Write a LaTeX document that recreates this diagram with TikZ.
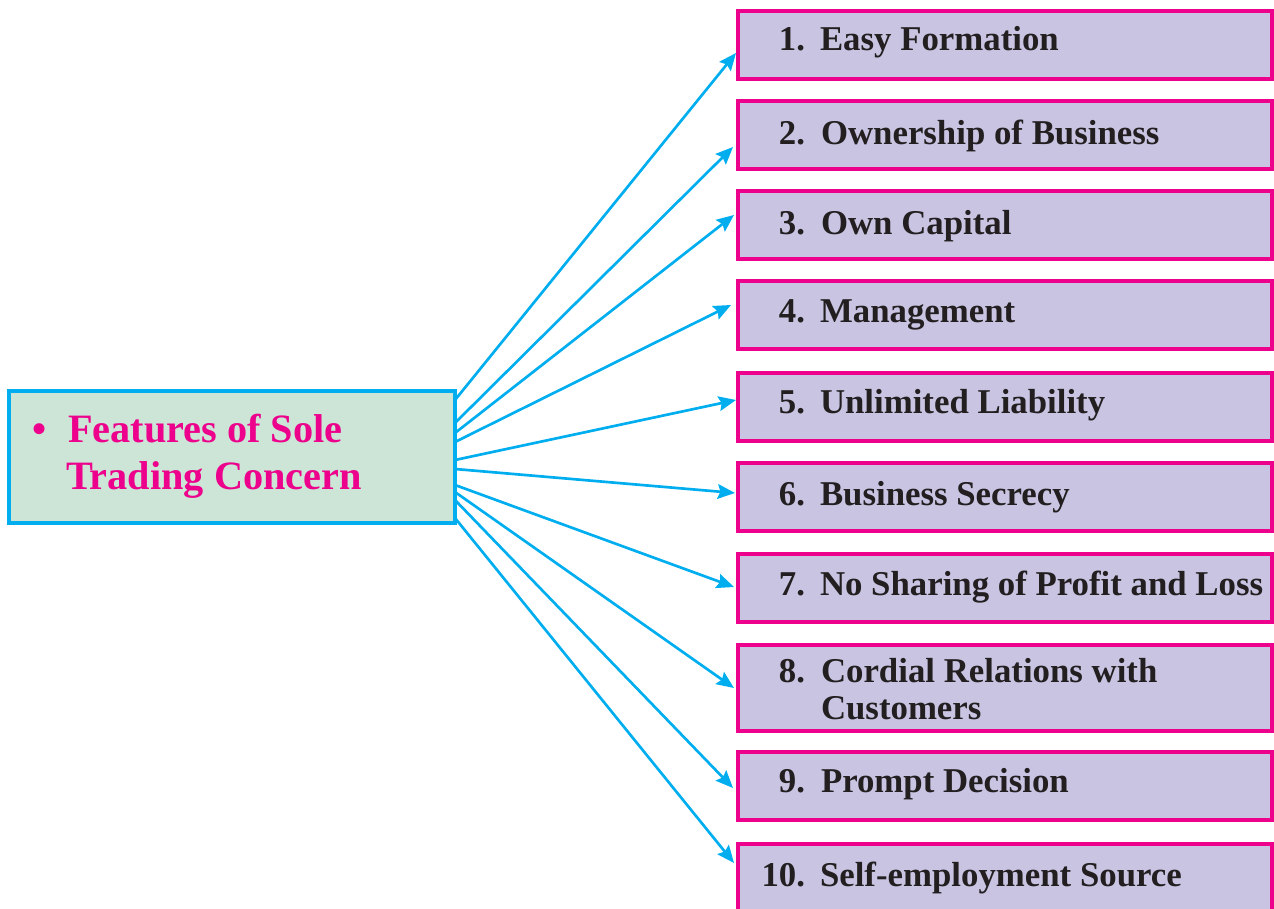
\documentclass[tikz,border=0pt]{standalone}
\usepackage{fontspec}
\setmainfont{Liberation Serif}
\usetikzlibrary{arrows.meta,calc}
\definecolor{cyanA}{RGB}{0,174,239}
\definecolor{magA}{RGB}{236,0,140}
\definecolor{lavA}{RGB}{200,196,226}
\definecolor{mintA}{RGB}{204,229,214}
\definecolor{darkA}{RGB}{35,31,32}
\tikzset{
  itembox/.style={draw=magA, fill=lavA, line width=2.6pt, rectangle, inner sep=0pt, outer sep=0pt,
    anchor=north west, minimum width=400.5pt, minimum height=51pt},
  mainbox/.style={draw=cyanA, fill=mintA, line width=2.6pt, rectangle, inner sep=0pt, outer sep=0pt,
    minimum width=334.5pt, minimum height=99pt, anchor=north west},
  numtxt/.style={inner sep=0pt, outer sep=0pt, anchor=base east, text=darkA,
    font=\fontsize{26.1pt}{30pt}\selectfont\bfseries},
  lbltxt/.style={inner sep=0pt, outer sep=0pt, anchor=base west, text=darkA,
    font=\fontsize{26.1pt}{30pt}\selectfont\bfseries},
  maintxt/.style={inner sep=0pt, outer sep=0pt, anchor=base west, text=magA,
    font=\fontsize{30.2pt}{35pt}\selectfont\bfseries},
  conn/.style={draw=cyanA, line width=2pt, -{Stealth[length=13pt, width=11pt, inset=2pt]}}
}
\begin{document}
\begin{tikzpicture}[x=0.75pt, y=-0.75pt]
\useasboundingbox (0,0) rectangle (1274,909);
% main box
\node[mainbox] (L) at (9,391) {};
\node[maintxt] (bul) at (32,442) {•};
\node[maintxt] (m1) at (68,442) {Features of Sole};
\node[maintxt] (m2) at (66,489) {Trading Concern};
% item boxes
\node[itembox] (b1) at (738,11) {};
\node[itembox] (b2) at (738,101) {};
\node[itembox] (b3) at (738,191) {};
\node[itembox] (b4) at (738,281) {};
\node[itembox] (b5) at (738,373) {};
\node[itembox] (b6) at (738,463) {};
\node[itembox] (b7) at (738,554) {};
\node[itembox, minimum height=64.5pt] (b8) at (738,645) {};
\node[itembox] (b9) at (738,752) {};
\node[itembox, minimum height=53pt] (b10) at (738,844) {};
% texts
\node[numtxt] (n1) at (805,51) {1.};
\node[lbltxt] (t1) at (820,51) {Easy Formation};
\node[numtxt] (n2) at (805,145) {2.};
\node[lbltxt] (t2) at (821,145) {Ownership of Business};
\node[numtxt] (n3) at (805,235) {3.};
\node[lbltxt] (t3) at (821,235) {Own Capital};
\node[numtxt] (n4) at (805,322) {4.};
\node[lbltxt] (t4) at (820,322) {Management};
\node[numtxt] (n5) at (805,413) {5.};
\node[lbltxt] (t5) at (820,413) {Unlimited Liability};
\node[numtxt] (n6) at (805,505) {6.};
\node[lbltxt] (t6) at (820,505) {Business Secrecy};
\node[numtxt] (n7) at (805,595) {7.};
\node[lbltxt] (t7) at (820,595) {No Sharing of Profit and Loss};
\node[numtxt] (n8) at (805,682) {8.};
\node[lbltxt] (t8a) at (821,682) {Cordial Relations with};
\node[lbltxt] (t8b) at (821,719) {Customers};
\node[numtxt] (n9) at (805,792) {9.};
\node[lbltxt] (t9) at (821,792) {Prompt Decision};
\node[numtxt] (n10) at (805,886) {10.};
\node[lbltxt] (t10) at (820,886) {Self-employment Source};
% connectors
\draw[conn] ($(L.north east)+(0,9)$)   -- ($(b1.north west)+(-2,42)$);
\draw[conn] ($(L.north east)+(0,32)$)  -- ($(b2.north west)+(-5,46)$);
\draw[conn] ($(L.north east)+(0,42)$)  -- ($(b3.north west)+(-4,24)$);
\draw[conn] ($(L.north east)+(0,51)$)  -- ($(b4.north west)+(-7,24)$);
\draw[conn] ($(L.north east)+(0,69)$)  -- ($(b5.north west)+(-2,27)$);
\draw[conn] ($(L.north east)+(0,78)$)  -- ($(b6.north west)+(-3,30)$);
\draw[conn] ($(L.north east)+(0,94)$)  -- ($(b7.north west)+(-4,33)$);
\draw[conn] ($(L.north east)+(0,101)$) -- ($(b8.north west)+(-4,43)$);
\draw[conn] ($(L.north east)+(0,109)$) -- ($(b9.north west)+(-5,36)$);
\draw[conn] ($(L.north east)+(0,127)$) -- ($(b10.north west)+(-4,19)$);
\end{tikzpicture}
\end{document}
